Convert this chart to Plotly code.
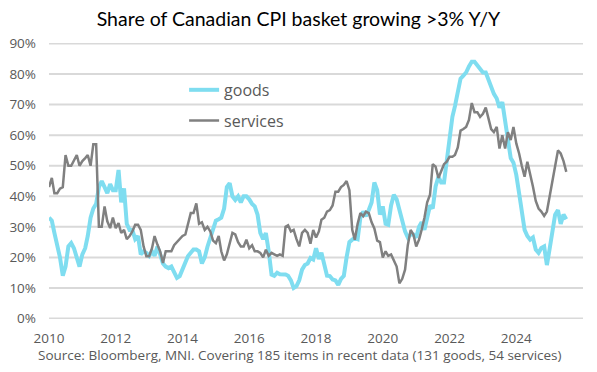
import pandas as pd
import plotly.graph_objects as go

start_month = "2010-01-01"

goods = [33, 32, 28, 24, 20, 14, 17, 23.6, 24.7, 23, 20, 17, 21, 23, 27, 33, 36, 37.5, 43, 45,
         43, 41, 44, 42, 42, 48.6, 38, 42.6, 31, 29, 29, 26, 27, 21, 22, 21.5, 20.5, 22, 20.5, 23.5,
         21, 18, 17, 16.5, 17, 15, 13.3, 13.9, 16, 18, 20.4, 21.5, 22.6, 22.6, 22,
         18, 20, 23.5, 26.4, 29, 32, 32.5, 33, 36, 43, 44.3, 40, 38.8, 40, 38, 40, 40, 39, 37.5, 36.7,
         34, 28, 26, 28, 22, 14.4, 14, 15, 14.5, 14.5, 14.4, 14, 12.5, 10, 10.6, 12.5, 16, 17.5, 18, 19.8,
         19.3, 23, 19.5, 21.5, 17, 14, 13.9, 12.8, 12.5, 11, 13, 14, 20, 25, 25.8, 26.4, 26, 33, 35, 33.5,
         35.5, 38, 44.5, 42,
         34, 36.7, 31, 30.7, 37, 40.5, 39, 35.5, 33, 28.5, 26.5, 27.5, 27.5, 26.5, 30, 31.5, 29, 32.5, 37, 36,
         43.2, 46.4, 44.5, 44.5, 52, 60.5, 66, 69.5, 74, 78.5, 79.5, 80.5, 82.5, 84, 84, 82.8, 81.5, 80.5, 80.5, 78.5,
         75.5, 73.5, 72, 69, 70.8, 65, 58.4, 52.5, 51, 47, 41, 34, 29, 27, 25.8, 26.5, 22.6, 21.5, 23.1, 23.6,
         17.5, 23, 29, 34, 35.5, 31, 34, 32.5]

services = [43, 46, 41, 41, 42.5, 43, 53.5, 50, 50, 52, 53.5, 50, 51.5, 52.5, 53.5, 50, 57, 57, 30, 30,
            36.7, 31.8, 29.6, 33, 29.6, 31.2, 28, 29, 26, 27, 28.5, 30.7, 30.7, 29, 23.6, 20.4, 20.4, 23, 27, 24.2,
            22, 18.2, 22, 22, 22, 24, 25, 26, 27, 27.5, 31, 34.5, 34.5, 37.7, 31,
            31.5, 29, 30, 28.5, 25.5, 24.7, 27, 22, 19, 21, 25, 28, 27.5, 25, 23.6, 23.6, 25.8, 23, 24, 22,
            22, 21.5, 20, 22.5, 20.5, 21.5, 21, 20.5, 21, 20.5, 30, 30.5, 28.5, 29, 26, 23.6, 28, 29, 28, 24.5,
            29, 26.5, 28.5, 32.3, 33, 35, 35.5, 37, 41.5, 41.5, 43, 43.7, 45, 42, 29, 25.8, 31, 34.5, 33.5, 35,
            34.5, 31.5, 29.5, 25.5,
            25, 20, 22, 20.5, 21, 19, 17, 11.5, 13, 16, 24, 29, 27.5, 23.6, 25.8, 29, 33, 38, 40.5, 50.5,
            49.7, 46, 48, 50.5, 51.3, 52.9, 52.9, 53.5, 56, 61.5, 62, 62.7, 65, 70.5, 67.5, 67.5, 66, 67, 69, 66,
            62, 61, 62.7, 55.6, 60, 55.6, 61, 58.4, 62.7, 57.3, 54, 50, 46.4, 51.3, 47.5, 43.2, 38.5, 36, 35, 33.6,
            35, 40, 44.5, 50, 55, 54, 51.5, 48]

y_ticks = [0, 10, 20, 30, 40, 50, 60, 70, 80, 90]
y_tick_labels = ["0%", "10%", "20%", "30%", "40%", "50%", "60%", "70%", "80%", "90%"]
x_tick_years = ["2010", "2012", "2014", "2016", "2018", "2020", "2022", "2024"]

dates = pd.date_range(start=start_month, periods=len(goods), freq="MS")

fig = go.Figure()
fig.add_trace(go.Scatter(x=dates, y=goods, mode="lines", name="goods",
                         line=dict(color="#7FDDF0", width=4), legend="legend"))
fig.add_trace(go.Scatter(x=dates[:len(services)], y=services, mode="lines", name="services",
                         line=dict(color="#808080", width=2.5), legend="legend2"))

legend_style = dict(xanchor="left", yanchor="middle", bgcolor="rgba(0,0,0,0)",
                    borderwidth=0, font=dict(family="Open Sans", size=16, color="#595959"))

# page body has an 8px margin, so the figure is 581x356 placed at (8, 8)
fig.update_layout(
    template="none",
    width=581, height=356, autosize=False,
    margin=dict(l=41, r=6, t=35, b=45, pad=0, autoexpand=False),
    paper_bgcolor="white", plot_bgcolor="white",
    title=dict(text="Share of Canadian CPI basket growing >3% Y/Y",
               x=0.5, xanchor="center", y=0.968, yanchor="middle",
               font=dict(family="Lato", size=19.5, color="#000000")),
    font=dict(family="Open Sans", color="#595959"),
    showlegend=True,
    legend=dict(x=0.253, y=0.83, **legend_style),
    legend2=dict(x=0.253, y=0.7185, **legend_style),
)
fig.update_xaxes(type="date", range=["2010-01-01", "2025-12-31"],
                 tickmode="array",
                 tickvals=[f"{y}-01-01" for y in x_tick_years], ticktext=x_tick_years,
                 showgrid=False, showline=False, zeroline=False, ticks="",
                 ticklabelstandoff=9,
                 tickfont=dict(size=13.5, color="#595959"), automargin=False)
fig.update_yaxes(range=[-0.15, 90.15], autorange=False, tickmode="array",
                 tickvals=y_ticks, ticktext=y_tick_labels,
                 showgrid=False,
                 zeroline=False, showline=False, ticks="",
                 ticklabelstandoff=12,
                 tickfont=dict(size=13.5, color="#595959"), automargin=False)

# horizontal gridlines at each y tick, placed through the y axis scale
for v in y_ticks:
    fig.add_shape(type="line", xref="paper", yref="y", x0=0, x1=1, y0=v, y1=v,
                  line=dict(color="#D9D9D9", width=2), layer="below")

fig.add_annotation(text="Source: Bloomberg, MNI. Covering 185 items in recent data (131 goods, 54 services)",
                   xref="paper", yref="paper", x=0.47, y=0, xanchor="center", yanchor="middle",
                   yshift=-36, showarrow=False,
                   font=dict(family="Open Sans", size=13.5, color="#595959"))

fig.write_html("out.html")
